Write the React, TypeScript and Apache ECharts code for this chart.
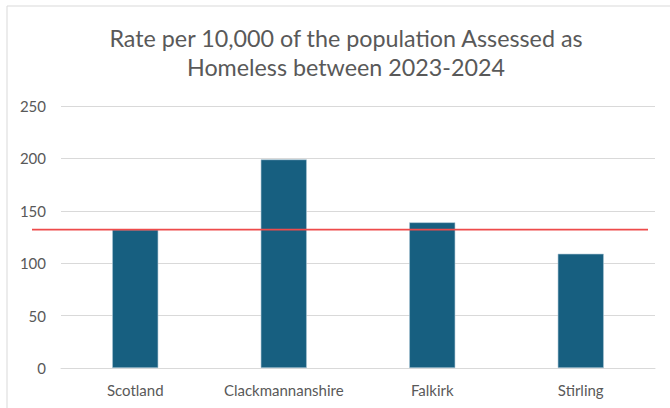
import React, { useEffect, useRef } from "react";
import * as echarts from "echarts";

const titleText = "Rate per 10,000 of the population Assessed as\nHomeless between 2023-2024";
const categories = ["Scotland", "Clackmannanshire", "Falkirk", "Stirling"];
const rates = [132, 199, 139, 109];
const scotlandReference = [132, 132];
const yMin = 0;
const yMax = 250;
const yInterval = 50;

export default function App() {
  const ref = useRef<HTMLDivElement>(null);
  useEffect(() => {
    document.body.style.margin = "0";
    const chart = echarts.init(ref.current!, null, { renderer: "svg" });
    const font = "Lato";
    const grey = "#595959";
    chart.setOption({
      animation: false,
      backgroundColor: "#ffffff",
      title: {
        text: titleText,
        left: 341,
        top: 18,
        textAlign: "center",
        textStyle: {
          fontFamily: font,
          fontSize: 23.3,
          fontWeight: "normal",
          color: grey,
          lineHeight: 29,
        },
      },
      graphic: [
        {
          type: "rect",
          shape: { x: 7, y: 6, width: 720, height: 460 },
          style: { fill: "none", stroke: "#d9d9d9", lineWidth: 1 },
          silent: true,
        },
      ],
      grid: [
        { left: 61, right: 15, top: 106, bottom: 40, containLabel: false },
        { left: 32, right: 22, top: 106, bottom: 40, containLabel: false },
      ],
      xAxis: [
        {
          type: "category",
          data: categories,
          gridIndex: 0,
          axisLine: { show: true, lineStyle: { color: "#d9d9d9", width: 1 } },
          axisTick: { show: false },
          axisLabel: { color: grey, fontFamily: font, fontSize: 15, margin: 14, interval: 0 },
        },
        {
          type: "category",
          data: ["", ""],
          gridIndex: 1,
          boundaryGap: false,
          show: false,
        },
      ],
      yAxis: [
        {
          type: "value",
          gridIndex: 0,
          min: yMin,
          max: yMax,
          interval: yInterval,
          axisLine: { show: false },
          axisTick: { show: false },
          splitLine: { lineStyle: { color: "#d9d9d9", width: 1 } },
          axisLabel: { color: grey, fontFamily: font, fontSize: 15, margin: 15 },
        },
        {
          type: "value",
          gridIndex: 1,
          min: yMin,
          max: yMax,
          show: false,
          splitLine: { show: false },
        },
      ],
      series: [
        {
          type: "bar",
          data: rates,
          xAxisIndex: 0,
          yAxisIndex: 0,
          barWidth: "31%",
          itemStyle: { color: "#175f80", borderColor: "#a9c4d4", borderWidth: 0.6 },
          z: 2,
        },
        {
          type: "line",
          data: scotlandReference,
          xAxisIndex: 1,
          yAxisIndex: 1,
          symbol: "none",
          lineStyle: { color: "#ee4b4b", width: 1.6 },
          z: 5,
        },
      ],
    });
    return () => chart.dispose();
  }, []);
  return <div ref={ref} style={{ width: 670, height: 408 }} />;
}
